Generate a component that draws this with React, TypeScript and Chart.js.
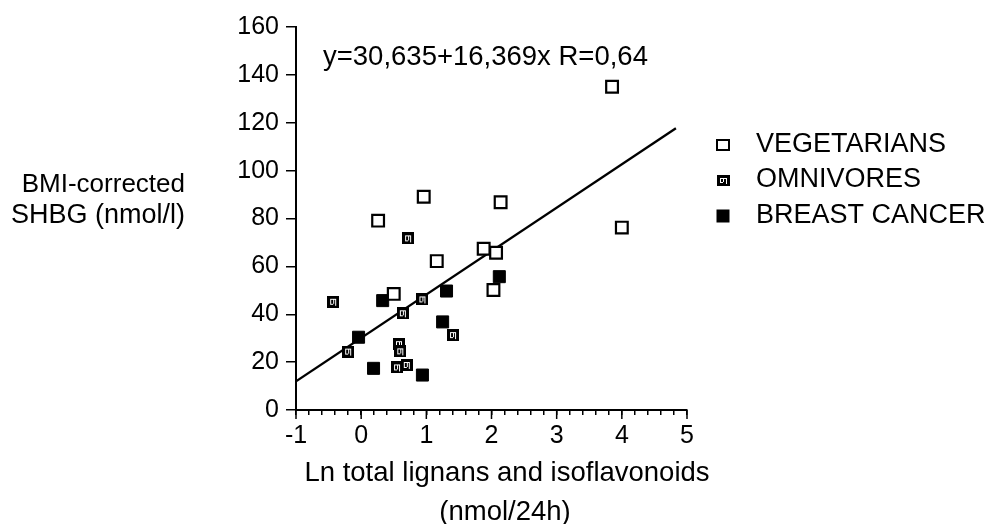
import React, { useEffect, useRef } from 'react';
import { Chart, registerables } from 'chart.js';

Chart.register(...registerables);

const FONT = "'Liberation Sans', Arial, Helvetica, sans-serif";

const vegetariansX = [3.85, 4.0, 0.96, 2.14, 0.26, 1.16, 1.88, 2.07, 2.03, 0.5];
const vegetariansY = [135, 76.2, 89.1, 86.8, 79.1, 62.2, 67.4, 65.7, 50.1, 48.5];
const omnivoresX = [-0.43, 0.72, 0.94, 0.64, -0.2, 1.41, 0.58, 0.6, 0.55, 0.7];
const omnivoresY = [45.2, 71.7, 46.2, 40.4, 24.4, 31.3, 27.5, 24.5, 17.8, 18.8];
const breastCancerX = [0.33, -0.04, 0.19, 0.94, 1.31, 1.25, 2.12];
const breastCancerY = [45.7, 30.4, 17.4, 14.6, 49.7, 36.8, 55.7];
const regressionX = [-1, 4.83];
const regressionY = [12, 117.7];
const seriesNames = ['VEGETARIANS', 'OMNIVORES', 'BREAST CANCER'];
const equationText = 'y=30,635+16,369x R=0,64';
const yTitleLines = ['BMI-corrected', 'SHBG (nmol/l)'];
const xTitleLines = ['Ln total lignans and isoflavonoids', '(nmol/24h)'];

const zip = (xs: number[], ys: number[]) => xs.map((x, i) => ({ x, y: ys[i] }));

function makeOmniMarker(w: number, h: number): HTMLCanvasElement {
  const c = document.createElement('canvas');
  c.width = w;
  c.height = h;
  const g = c.getContext('2d')!;
  g.fillStyle = '#000';
  g.fillRect(0, 0, w, h);
  g.fillStyle = '#fff';
  g.fillRect(3, 3, 1, h - 6);
  g.fillRect(6, 3, 1, h - 7);
  g.fillRect(3, 3, w - 6, 1);
  g.fillRect(w - 4, 4, 1, h - 6);
  g.fillRect(4, h - 4, 2, 1);
  return c;
}

export default function App() {
  const ref = useRef<HTMLCanvasElement | null>(null);

  useEffect(() => {
    document.body.style.margin = '0';
    const canvas = ref.current;
    if (!canvas) return;
    const omniMarker = makeOmniMarker(12, 12);
    const omniLegend = makeOmniMarker(13, 11);

    const decor = {
      id: 'decor',
      afterDraw(chart: any) {
        const ctx = chart.ctx;
        const xs = chart.scales.x;
        const area = chart.chartArea;
        ctx.save();
        // longer major ticks on x axis
        ctx.strokeStyle = '#000';
        ctx.lineWidth = 1.5;
        for (let v = -1; v <= 5; v++) {
          const px = xs.getPixelForValue(v);
          ctx.beginPath();
          ctx.moveTo(px, area.bottom);
          ctx.lineTo(px, area.bottom + 9);
          ctx.stroke();
        }
        ctx.fillStyle = '#000';
        // equation
        ctx.font = `27.5px ${FONT}`;
        ctx.textAlign = 'left';
        ctx.textBaseline = 'middle';
        ctx.fillText(equationText, 323, 57);
        // y title
        ctx.font = `26px ${FONT}`;
        ctx.textAlign = 'right';
        ctx.fillText(yTitleLines[0], 185, 185);
        ctx.font = `27px ${FONT}`;
        ctx.fillText(yTitleLines[1], 185, 216);
        // x title
        ctx.font = `27.5px ${FONT}`;
        ctx.textAlign = 'center';
        ctx.fillText(xTitleLines[0], 507, 473);
        ctx.fillText(xTitleLines[1], 505, 512);
        // legend
        const lx = 723;
        const ly = [145, 180, 216];
        ctx.lineWidth = 2;
        ctx.strokeRect(lx - 6, ly[0] - 5, 12, 10);
        ctx.drawImage(omniLegend, Math.round(lx - 6.5), Math.round(ly[1] - 5.5));
        ctx.fillRect(lx - 6.5, ly[2] - 6.5, 13, 13);
        ctx.textAlign = 'left';
        ctx.font = `27px ${FONT}`;
        seriesNames.forEach((n, i) => ctx.fillText(n, 756, ly[i]));
        ctx.restore();
      },
    };

    const chart = new Chart(canvas, {
      type: 'scatter',
      data: {
        datasets: [
          {
            label: seriesNames[0],
            data: zip(vegetariansX, vegetariansY),
            pointStyle: 'rect',
            pointRadius: 8.3,
            backgroundColor: '#fff',
            borderColor: '#000',
            borderWidth: 2.2,
          },
          {
            label: seriesNames[1],
            data: zip(omnivoresX, omnivoresY),
            pointStyle: omniMarker as any,
            pointRadius: 6,
            backgroundColor: '#000',
            borderColor: '#000',
          },
          {
            label: seriesNames[2],
            data: zip(breastCancerX, breastCancerY),
            pointStyle: 'rect',
            pointRadius: 8.5,
            backgroundColor: '#000',
            borderColor: '#000',
            borderWidth: 1,
          },
          {
            label: 'fit',
            data: zip(regressionX, regressionY),
            showLine: true,
            borderColor: '#000',
            borderWidth: 2.3,
            pointRadius: 0,
            fill: false,
          } as any,
        ],
      },
      options: {
        responsive: false,
        animation: false,
        layout: { padding: { top: 27, right: 305, left: 0, bottom: 0 } },
        plugins: { legend: { display: false }, tooltip: { enabled: false } },
        scales: {
          x: {
            type: 'linear',
            min: -1,
            max: 5,
            afterFit: (s: any) => {
              s.height = 114;
            },
            border: { color: '#000', width: 2 },
            grid: { drawOnChartArea: false, tickLength: 5, color: '#000', lineWidth: 1.5 },
            ticks: {
              stepSize: 0.2,
              autoSkip: false,
              maxRotation: 0,
              minRotation: 0,
              padding: 6,
              color: '#000',
              font: { family: FONT, size: 25 },
              callback: (v: any) => {
                const n = Number(v);
                return Math.abs(n - Math.round(n)) < 1e-6 ? String(Math.round(n)) : '';
              },
            },
          },
          y: {
            type: 'linear',
            min: 0,
            max: 160,
            afterFit: (s: any) => {
              s.width = 296;
            },
            border: { color: '#000', width: 2 },
            grid: { drawOnChartArea: false, tickLength: 10, color: '#000', lineWidth: 1.5 },
            ticks: {
              stepSize: 20,
              padding: 7,
              color: '#000',
              font: { family: FONT, size: 25 },
            },
          },
        },
      },
      plugins: [decor],
    } as any);
    return () => chart.destroy();
  }, []);

  return <canvas ref={ref} width={992} height={524} style={{ display: 'block' }} />;
}
